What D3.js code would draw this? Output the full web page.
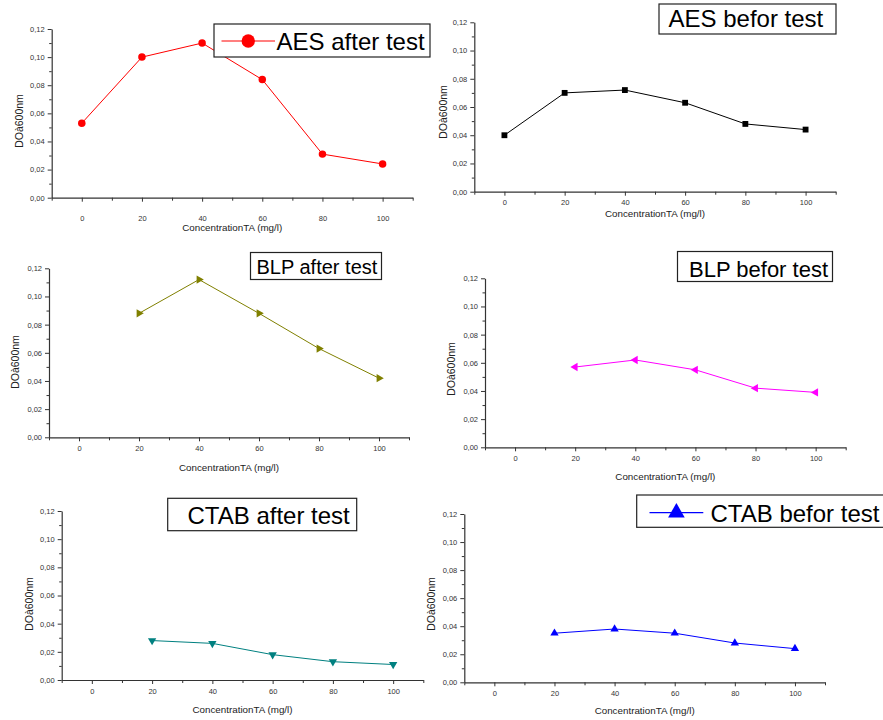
<!DOCTYPE html>
<html>
<head>
<meta charset="utf-8">
<script src="https://cdn.jsdelivr.net/npm/d3@7"></script>
<style>
  html, body { margin: 0; padding: 0; background: #fff; }
  svg { display: block; font-family: "Liberation Sans", Arial, sans-serif; }
</style>
</head>
<body>
<svg id="chart" width="883" height="720"></svg>
<script>
// ---- data ----
const concentrations = [0, 20, 40, 60, 80, 100];
const concentrationsNoZero = [20, 40, 60, 80, 100];
const aesAfter  = [0.053, 0.100, 0.110, 0.084, 0.031, 0.024];
const aesBefore = [0.040, 0.070, 0.072, 0.063, 0.048, 0.044];
const blpAfter  = [0.088, 0.112, 0.088, 0.063, 0.042];
const blpBefore = [0.057, 0.062, 0.055, 0.042, 0.039];
const ctabAfter  = [0.028, 0.026, 0.018, 0.013, 0.011];
const ctabBefore = [0.035, 0.038, 0.035, 0.028, 0.024];
const xTickLabels = [0, 20, 40, 60, 80, 100];
const xMinorTicks = [-10, 10, 30, 50, 70, 90, 110];
const yTickLabels = [0.00, 0.02, 0.04, 0.06, 0.08, 0.10, 0.12];
const yMinorTicks = [0.01, 0.03, 0.05, 0.07, 0.09, 0.11];
const xDomain = [-10, 110];
const yDomain = [0, 0.12];
const xTitle = "ConcentrationTA (mg/l)";
const yTitle = "DOà600nm";
const seriesNames = ["AES after test", "AES befor test", "BLP after test", "BLP befor test", "CTAB after test", "CTAB befor test"];

// ---- layout / style per panel ----
const panels = [
  { name: seriesNames[0], xs: concentrations, ys: aesAfter, color: "#ff0000", sym: "circle", size: 44,
    L: 51.7, R: 412.7, T: 29, B: 197.7, tickPad: 13.5, titleY: 230.5, yTitleX: 19, yTitleY: 121,
    legend: { x: 214, y: 24, w: 216, h: 33, fs: 24, tx: 276.5, ty: 50, symbol: true, lx1: 221.5, lx2: 275, ly: 41, lsize: 140 } },
  { name: seriesNames[1], xs: concentrations, ys: aesBefore, color: "#000000", sym: "square", size: 34,
    L: 474.3, R: 835.7, T: 22.3, B: 191.7, tickPad: 3.5, titleY: 216.5, yTitleX: 443, yTitleY: 112,
    legend: { x: 659, y: 4, w: 177, h: 30, fs: 24, tx: 668.5, ty: 27, symbol: false } },
  { name: seriesNames[2], xs: concentrationsNoZero, ys: blpAfter, color: "#808000", sym: "triRight", size: 30,
    L: 49, R: 409, T: 268.3, B: 437.3, tickPad: 4.5, titleY: 470.5, yTitleX: 15, yTitleY: 362,
    legend: { x: 250.5, y: 252.5, w: 131, h: 27, fs: 20, tx: 256.5, ty: 274, symbol: false } },
  { name: seriesNames[3], xs: concentrationsNoZero, ys: blpBefore, color: "#ff00ff", sym: "triLeft", size: 30,
    L: 485, R: 845.7, T: 278.3, B: 447.3, tickPad: 4.5, titleY: 479.5, yTitleX: 451, yTitleY: 369,
    legend: { x: 677.5, y: 251.5, w: 155, h: 30, fs: 22, tx: 689, ty: 276.5, symbol: false } },
  { name: seriesNames[4], xs: concentrationsNoZero, ys: ctabAfter, color: "#008080", sym: "triDown", size: 30,
    L: 61.7, R: 423.3, T: 511, B: 680, tickPad: 5, titleY: 712.5, yTitleX: 29, yTitleY: 604,
    legend: { x: 167.7, y: 498.3, w: 189, h: 32.4, fs: 24, tx: 187.5, ty: 523.5, symbol: false } },
  { name: seriesNames[5], xs: concentrationsNoZero, ys: ctabBefore, color: "#0000ff", sym: "triUp", size: 30,
    L: 464.3, R: 825, T: 514, B: 682.3, tickPad: 4.5, titleY: 714, yTitleX: 431, yTitleY: 604,
    legend: { x: 636.7, y: 495, w: 260, h: 32.3, fs: 24, tx: 710.5, ty: 521.5, symbol: true, lx1: 649.5, lx2: 703.3, ly: 512.7, lsize: 120 } }
];

const svg = d3.select("#chart");
const axisColor = "#333";
const fmt = d => d.toFixed(2).replace(".", ",");

function symbolPath(kind, size) {
  const map = { circle: d3.symbolCircle, square: d3.symbolSquare,
    triUp: d3.symbolTriangle, triDown: d3.symbolTriangle, triLeft: d3.symbolTriangle, triRight: d3.symbolTriangle };
  return d3.symbol().type(map[kind]).size(size)();
}
function symbolRotation(kind) {
  return { triDown: 180, triLeft: -90, triRight: 90 }[kind] || 0;
}

panels.forEach(p => {
  const g = svg.append("g");
  const x = d3.scaleLinear().domain(xDomain).range([p.L, p.R]);
  const y = d3.scaleLinear().domain(yDomain).range([p.B, p.T]);

  const xa = g.append("g").attr("transform", `translate(0,${p.B})`)
    .call(d3.axisBottom(x).tickValues(xTickLabels).tickSize(4).tickSizeOuter(0).tickPadding(p.tickPad).tickFormat(d3.format("d")));
  const xm = g.append("g").attr("transform", `translate(0,${p.B})`)
    .call(d3.axisBottom(x).tickValues(xMinorTicks).tickSize(3).tickSizeOuter(0).tickFormat(""));
  xm.select(".domain").remove();
  const ya = g.append("g").attr("transform", `translate(${p.L},0)`)
    .call(d3.axisLeft(y).tickValues(yTickLabels).tickSize(4).tickSizeOuter(0).tickPadding(3).tickFormat(fmt));
  const ym = g.append("g").attr("transform", `translate(${p.L},0)`)
    .call(d3.axisLeft(y).tickValues(yMinorTicks).tickSize(2.5).tickSizeOuter(0).tickFormat(""));
  ym.select(".domain").remove();

  [xa, xm, ya, ym].forEach(a => {
    a.selectAll("path.domain").attr("stroke", axisColor).attr("stroke-width", 1.2);
    a.selectAll(".tick line").attr("stroke", axisColor).attr("stroke-width", 1);
    a.selectAll(".tick text").attr("fill", "#333").style("font-size", "7.5px")
      .style("font-family", "'Liberation Sans', Arial, sans-serif");
  });

  g.append("text").attr("x", (x(0) + x(100)) / 2).attr("y", p.titleY)
    .attr("text-anchor", "middle").attr("fill", "#222").style("font-size", "9.8px").text(xTitle);
  g.append("text").attr("transform", `translate(${p.yTitleX + 3.5},${p.yTitleY}) rotate(-90)`)
    .attr("text-anchor", "middle").attr("fill", "#222").style("font-size", "10.5px").text(yTitle);

  const pts = p.xs.map((v, i) => [v, p.ys[i]]);
  g.append("path").datum(pts)
    .attr("d", d3.line().x(d => x(d[0])).y(d => y(d[1])))
    .attr("fill", "none").attr("stroke", p.color).attr("stroke-width", 1);
  g.selectAll(".mk").data(pts).join("path").attr("class", "mk")
    .attr("d", symbolPath(p.sym, p.size))
    .attr("transform", d => `translate(${x(d[0])},${y(d[1])}) rotate(${symbolRotation(p.sym)})`)
    .attr("fill", p.color);

  const lg = p.legend;
  const lgG = svg.append("g");
  lgG.append("rect").attr("x", lg.x).attr("y", lg.y).attr("width", lg.w).attr("height", lg.h)
    .attr("fill", "#fff").attr("stroke", "#222").attr("stroke-width", 1.2);
  if (lg.symbol) {
    lgG.append("line").attr("x1", lg.lx1).attr("x2", lg.lx2).attr("y1", lg.ly).attr("y2", lg.ly)
      .attr("stroke", p.color).attr("stroke-width", 1.2);
    lgG.append("path").attr("d", symbolPath(p.sym, lg.lsize))
      .attr("transform", `translate(${(lg.lx1 + lg.lx2) / 2},${lg.ly}) rotate(${symbolRotation(p.sym)})`)
      .attr("fill", p.color);
  }
  lgG.append("text").attr("x", lg.tx).attr("y", lg.ty).attr("fill", "#000")
    .style("font-size", lg.fs + "px").text(p.name);
});
</script>
</body>
</html>
